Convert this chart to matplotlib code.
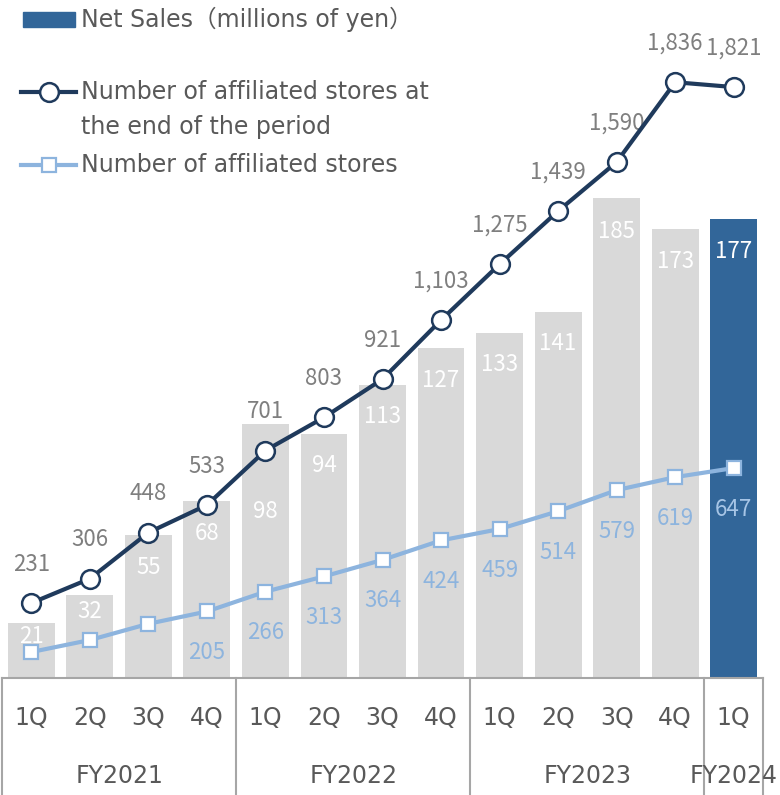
import matplotlib
matplotlib.use("Agg")
import matplotlib.pyplot as plt
import matplotlib.transforms as mtrans
from matplotlib.lines import Line2D
from matplotlib.patches import Rectangle

# data labels use the narrow CJK font, axis/legend text a wider one
LABEL_FONT = ["Noto Sans CJK JP", "DejaVu Sans"]
TEXT_FONT = ["DejaVu Sans", "Noto Sans CJK JP"]
plt.rcParams["font.family"] = LABEL_FONT

# data
quarters = ["1Q", "2Q", "3Q", "4Q", "1Q", "2Q", "3Q", "4Q", "1Q", "2Q", "3Q", "4Q", "1Q"]
years = ["FY2021", "FY2022", "FY2023", "FY2024"]
year_quarters = [4, 4, 4, 1]
net_sales = [21, 32, 55, 68, 98, 94, 113, 127, 133, 141, 185, 173, 177]
stores_end = [231, 306, 448, 533, 701, 803, 921, 1103, 1275, 1439, 1590, 1836, 1821]
stores = [80, 117, 167, 205, 266, 313, 364, 424, 459, 514, 579, 619, 647]

# colours
GRAY_BAR = "#D9D9D9"
BLUE_BAR = "#326699"
NAVY = "#1F3A5C"
LIGHT = "#8DB4DE"
TEXT = "#595959"
LABEL = "#7F7F7F"
AXIS = "#A6A6A6"
FS = 16
TS = 17

W, H = 780, 795
fig = plt.figure(figsize=(W / 100, H / 100), dpi=100)


def fx(px):
    return px / W


def fy(px):
    return 1 - px / H


ax_left, ax_right, ax_top, ax_bottom = 2, 763, 29, 678
ax = fig.add_axes([fx(ax_left), fy(ax_bottom), fx(ax_right - ax_left), (ax_bottom - ax_top) / H])
x = list(range(len(quarters)))

# bars (net sales)
bar_colors = [GRAY_BAR] * (len(x) - 1) + [BLUE_BAR]
ax.bar(x, net_sales, width=0.8, color=bar_colors, zorder=1)
ax.set_ylim(0, 250)
ax.set_xlim(-0.5, len(x) - 0.5)

bar_label_drop = [13, 17, 32, 32, 88, 32, 32, 32, 32, 32, 34, 33, 33]
for i, v in enumerate(net_sales):
    ax.annotate(str(v), (i, v), xytext=(0, -bar_label_drop[i]), textcoords="offset pixels",
                ha="center", va="center", color="white", fontsize=FS, zorder=2)

# lines on a second axis drawn above the bars
ax2 = ax.twinx()
ax2.set_ylim(0, 2000)
ax2.plot(x, stores, color=LIGHT, lw=3, marker="s", ms=9.5, mfc="white", mec=LIGHT, mew=1.6, zorder=3)
ax2.plot(x, stores_end, color=NAVY, lw=3, marker="o", ms=13.5, mfc="white", mec=NAVY, mew=1.8, zorder=4)

for i, v in enumerate(stores_end):
    ax2.annotate(f"{v:,}", (i, v), xytext=(0, 39), textcoords="offset pixels",
                 ha="center", va="center", color=LABEL, fontsize=FS)

stores_label_from = 3
for i, v in enumerate(stores):
    if i < stores_label_from:
        continue
    ax2.annotate(f"{v:,}", (i, v), xytext=(0, -41), textcoords="offset pixels",
                 ha="center", va="center", color="#A7C5E6" if i == len(x) - 1 else LIGHT,
                 fontsize=FS)

for a in (ax, ax2):
    a.set_yticks([])
    a.set_xticks([])
    for s in ("left", "right", "top"):
        a.spines[s].set_visible(False)
ax.spines["bottom"].set_color(AXIS)
ax.spines["bottom"].set_linewidth(1.5)
ax2.spines["bottom"].set_visible(False)

# two-level category axis
trans = mtrans.blended_transform_factory(ax.transData, fig.transFigure)
for i, q in enumerate(quarters):
    fig.text(i, fy(718), q, transform=trans, ha="center", va="center", color=TEXT,
             fontsize=TS, family=TEXT_FONT)

start = 0
bounds = [-0.5]
for name, n in zip(years, year_quarters):
    centre = start + (n - 1) / 2
    fig.text(centre, fy(776), name, transform=trans, ha="center", va="center", color=TEXT,
             fontsize=TS, family=TEXT_FONT)
    start += n
    bounds.append(start - 0.5)
for b in bounds:
    fig.add_artist(Line2D([b, b], [fy(ax_bottom), 0], transform=trans, color=AXIS, lw=1.5))

# legend
fig.add_artist(Rectangle((fx(23), fy(27)), fx(52), 15 / H, transform=fig.transFigure,
                         color=BLUE_BAR))
fig.text(fx(81), fy(19), "Net Sales（millions of yen）", ha="left", va="center",
         color=TEXT, fontsize=TS, family=TEXT_FONT)
fig.add_artist(Line2D([fx(21), fx(76)], [fy(92), fy(92)], transform=fig.transFigure,
                      color=NAVY, lw=3, zorder=5))
fig.add_artist(Line2D([fx(48.5)], [fy(92)], transform=fig.transFigure, color=NAVY, lw=0,
                      marker="o", ms=13.5, mfc="white", mec=NAVY, mew=1.8, zorder=6))
fig.text(fx(81), fy(92), "Number of affiliated stores at", ha="left", va="center",
         color=TEXT, fontsize=TS, family=TEXT_FONT)
fig.text(fx(81), fy(127), "the end of the period", ha="left", va="center",
         color=TEXT, fontsize=TS, family=TEXT_FONT)
fig.add_artist(Line2D([fx(21), fx(76)], [fy(165), fy(165)], transform=fig.transFigure,
                      color=LIGHT, lw=3, zorder=5))
fig.add_artist(Line2D([fx(48.5)], [fy(165)], transform=fig.transFigure, color=LIGHT, lw=0,
                      marker="s", ms=9.5, mfc="white", mec=LIGHT, mew=1.6, zorder=6))
fig.text(fx(81), fy(165), "Number of affiliated stores", ha="left", va="center",
         color=TEXT, fontsize=TS, family=TEXT_FONT)

fig.savefig("out.png", dpi=100)
